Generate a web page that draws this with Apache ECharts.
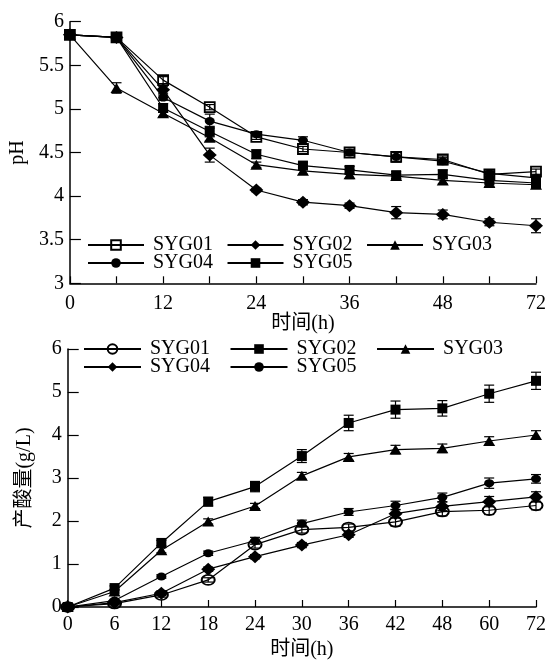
<!DOCTYPE html>
<html>
<head>
<meta charset="utf-8">
<script src="https://cdn.jsdelivr.net/npm/echarts@6/dist/echarts.min.js"></script>
<style>
html,body{margin:0;padding:0;background:#fff;}
#main{width:549px;height:661px;}
</style>
</head>
<body>
<div id="main"></div>
<script>
// ---- Data ----
const hours = ['0','6','12','18','24','30','36','42','48','60','72'];
const seriesNames = ['SYG01','SYG02','SYG03','SYG04','SYG05'];

// pH (top chart)
const ph01 = [5.85, 5.82, 5.33, 5.02, 4.68, 4.54, 4.50, 4.45, 4.42, 4.25, 4.28];
const ph02 = [5.85, 5.82, 5.22, 4.47, 4.07, 3.93, 3.89, 3.81, 3.79, 3.70, 3.66];
const ph03 = [5.85, 5.24, 4.95, 4.67, 4.36, 4.29, 4.25, 4.23, 4.18, 4.15, 4.13];
const ph04 = [5.85, 5.82, 5.13, 4.86, 4.71, 4.64, 4.50, 4.45, 4.40, 4.26, 4.21];
const ph05 = [5.85, 5.82, 5.01, 4.74, 4.48, 4.35, 4.30, 4.24, 4.25, 4.18, 4.15];
const phErr01 = [0.02, 0.02, 0.04, 0.03, 0.03, 0.03, 0.03, 0.06, 0.04, 0.03, 0.03];
const phErr02 = [0.02, 0.02, 0.04, 0.08, 0.02, 0.03, 0.03, 0.07, 0.05, 0.04, 0.08];
const phErr03 = [0.02, 0.06, 0.04, 0.04, 0.03, 0.04, 0.05, 0.03, 0.04, 0.04, 0.03];
const phErr04 = [0.02, 0.02, 0.03, 0.08, 0.03, 0.04, 0.03, 0.05, 0.04, 0.03, 0.03];
const phErr05 = [0.02, 0.02, 0.05, 0.06, 0.05, 0.04, 0.04, 0.04, 0.05, 0.03, 0.03];

// Acid production g/L (bottom chart)
const acid01 = [0, 0.08, 0.28, 0.63, 1.45, 1.80, 1.85, 1.98, 2.22, 2.25, 2.36];
const acid02 = [0, 0.44, 1.49, 2.45, 2.80, 3.51, 4.28, 4.59, 4.62, 4.96, 5.26];
const acid03 = [0, 0.36, 1.32, 1.99, 2.35, 3.05, 3.49, 3.66, 3.69, 3.86, 4.00];
const acid04 = [0, 0.10, 0.32, 0.88, 1.17, 1.44, 1.68, 2.17, 2.34, 2.45, 2.56];
const acid05 = [0, 0.15, 0.71, 1.25, 1.54, 1.94, 2.21, 2.36, 2.55, 2.88, 2.98];
const acidErr01 = [0.02, 0.03, 0.05, 0.05, 0.08, 0.08, 0.08, 0.10, 0.10, 0.10, 0.10];
const acidErr02 = [0.02, 0.05, 0.06, 0.10, 0.12, 0.15, 0.18, 0.20, 0.18, 0.20, 0.20];
const acidErr03 = [0.02, 0.05, 0.06, 0.06, 0.06, 0.08, 0.08, 0.10, 0.10, 0.10, 0.10];
const acidErr04 = [0.02, 0.03, 0.05, 0.05, 0.05, 0.06, 0.06, 0.10, 0.10, 0.12, 0.12];
const acidErr05 = [0.02, 0.03, 0.04, 0.05, 0.08, 0.08, 0.08, 0.10, 0.10, 0.12, 0.10];

const phTicks = {min: 3, max: 6, interval: 0.5};
const acidTicks = {min: 0, max: 6, interval: 1};

// ---- Styles ----
const FONT = "'Liberation Serif', 'Noto Sans CJK SC', serif";
const BLACK = '#000';
const B = '\u200b'; // suffix for bottom-chart series names

const topMarkers = [
  {symbol: 'rect', size: 10, hollow: true},
  {symbol: 'diamond', size: [14, 13], hollow: false},
  {symbol: 'triangle', size: [12, 10], hollow: false},
  {symbol: 'circle', size: [10, 8], hollow: false},
  {symbol: 'rect', size: 10, hollow: false}
];
const bottomMarkers = [
  {symbol: 'circle', size: [13, 10], hollow: true},
  {symbol: 'rect', size: 10, hollow: false},
  {symbol: 'triangle', size: [12, 10], hollow: false},
  {symbol: 'diamond', size: [14, 13], hollow: false},
  {symbol: 'circle', size: [10, 8], hollow: false}
];

function lineSeries(name, data, mk, axisIdx) {
  return {
    type: 'line',
    name: name,
    xAxisIndex: axisIdx, yAxisIndex: axisIdx,
    data: data,
    symbol: mk.symbol,
    symbolSize: mk.size,
    showAllSymbol: true,
    animation: false,
    z: 3,
    lineStyle: {color: BLACK, width: 1.2},
    itemStyle: mk.hollow
      ? {color: 'rgba(255,255,255,0)', borderColor: BLACK, borderWidth: 1.8}
      : {color: BLACK, borderColor: BLACK, borderWidth: 0},
    emphasis: {disabled: true}
  };
}

function errSeries(vals, errs, axisIdx) {
  return {
    type: 'custom',
    xAxisIndex: axisIdx, yAxisIndex: axisIdx,
    data: vals.map((v, i) => [i, v, errs[i]]),
    encode: {x: 0, y: 1},
    z: 2,
    animation: false,
    silent: true,
    renderItem: function (params, api) {
      const i = api.value(0), v = api.value(1), e = api.value(2);
      const hi = api.coord([i, v + e]);
      const lo = api.coord([i, v - e]);
      const cap = 5;
      const st = {stroke: BLACK, lineWidth: 1.2};
      return {
        type: 'group',
        children: [
          {type: 'line', shape: {x1: hi[0], y1: hi[1], x2: lo[0], y2: lo[1]}, style: st},
          {type: 'line', shape: {x1: hi[0]-cap, y1: hi[1], x2: hi[0]+cap, y2: hi[1]}, style: st},
          {type: 'line', shape: {x1: lo[0]-cap, y1: lo[1], x2: lo[0]+cap, y2: lo[1]}, style: st}
        ]
      };
    }
  };
}

const phData = [ph01, ph02, ph03, ph04, ph05];
const phErr = [phErr01, phErr02, phErr03, phErr04, phErr05];
const acidData = [acid01, acid02, acid03, acid04, acid05];
const acidErr = [acidErr01, acidErr02, acidErr03, acidErr04, acidErr05];

const series = [];
seriesNames.forEach((n, k) => {
  series.push(errSeries(phData[k], phErr[k], 0));
  series.push(lineSeries(n, phData[k], topMarkers[k], 0));
});
seriesNames.forEach((n, k) => {
  series.push(errSeries(acidData[k], acidErr[k], 1));
  series.push(lineSeries(n + B, acidData[k], bottomMarkers[k], 1));
});

function legend(names, left, centerY, itemWidth, gap) {
  return {
    data: names,
    left: left,
    top: centerY - 10,
    orient: 'horizontal',
    padding: 0,
    itemGap: gap,
    itemWidth: itemWidth,
    itemHeight: 12,
    selectedMode: false,
    formatter: function (n) { return n.replace(B, ''); },
    textStyle: {fontFamily: FONT, fontSize: 20, color: BLACK, lineHeight: 20, padding: [0, 0, 0, 4]}
  };
}

function xAxis(gridIdx, labelInterval, nameGap, margin) {
  return {
    type: 'category',
    gridIndex: gridIdx,
    data: hours,
    boundaryGap: false,
    name: '时间(h)',
    nameLocation: 'middle',
    nameGap: nameGap,
    nameTextStyle: {fontFamily: FONT, fontSize: 20, color: BLACK},
    axisLine: {show: true, lineStyle: {color: BLACK, width: 1.5}},
    axisTick: {show: true, inside: true, length: 7, interval: 0, lineStyle: {color: BLACK, width: 1.2}},
    axisLabel: {interval: labelInterval, margin: margin, fontFamily: FONT, fontSize: 20, color: BLACK},
    splitLine: {show: false}
  };
}

function yAxis(gridIdx, ticks, name, nameGap, fmt) {
  return {
    type: 'value',
    gridIndex: gridIdx,
    min: ticks.min, max: ticks.max, interval: ticks.interval,
    name: name,
    nameLocation: 'middle',
    nameGap: nameGap,
    nameTextStyle: {fontFamily: FONT, fontSize: 20, color: BLACK},
    axisLine: {show: true, lineStyle: {color: BLACK, width: 1.5}},
    axisTick: {show: true, inside: true, length: 11, lineStyle: {color: BLACK, width: 1.2}},
    axisLabel: {margin: 6, fontFamily: FONT, fontSize: 20, color: BLACK, formatter: fmt},
    splitLine: {show: false}
  };
}

const chart = echarts.init(document.getElementById('main'), null, {renderer: 'canvas'});
chart.setOption({
  backgroundColor: '#fff',
  animation: false,
  grid: [
    {left: 67.7, right: 13, top: 21.7, height: 261.6},
    {left: 67.7, right: 10.7, top: 349, height: 260}
  ],
  legend: [
    legend(['SYG01', 'SYG02', 'SYG03'], 87, 245, 56, 13.5),
    legend(['SYG04', 'SYG05'], 87, 263, 56, 13.5),
    legend(['SYG01' + B, 'SYG02' + B, 'SYG03' + B], 83, 349, 57, 19.5),
    legend(['SYG04' + B, 'SYG05' + B], 83, 367, 57, 19.5)
  ],
  xAxis: [xAxis(0, 1, 29, 10), xAxis(1, 0, 33, 8)],
  yAxis: [
    yAxis(0, phTicks, 'pH', 40, v => String(v)),
    yAxis(1, acidTicks, '产酸量(g/L)', 33, v => String(v))
  ],
  series: series
});
</script>
</body>
</html>
